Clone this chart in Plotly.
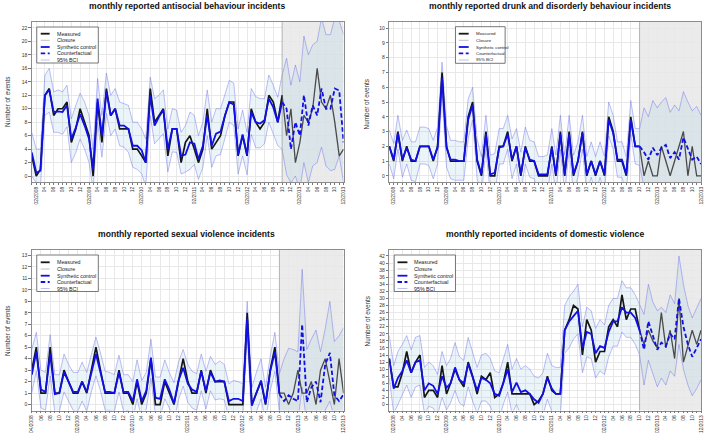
import plotly.graph_objects as go

W, H = 709, 440
FONT = "Liberation Sans, Arial, sans-serif"

# ---------------- categories ----------------
months = [f"{y}-{m:02d}-01" for y in range(2008, 2014) for m in range(1, 13)]   # 01/2008 .. 12/2013
months_sv = months[3:]                                                          # 04/2008 .. 12/2013
closure_month = "2012-10-01"

# ---------------- antisocial behaviour ----------------
asb_measured = [3, 0, 1, 12, 13, 9, 10, 10, 11, 5, 7, 10,
                8, 6, 0, 11, 5, 13, 9, 10, 7, 7, 7, 4,
                4, 3, 2, 13, 8, 9, 10, 3, 7, 7, 2, 5,
                6, 4, 2, 4, 10, 4, 5, 6, 9, 11, 11, 3,
                6, 3, 10, 8, 7, 8, 12, 11, 8, 12, 6, 10,
                2, 5, 9, 8, 10, 16, 11, 10, 12, 8, 3, 4]
asb_synthetic = [3.5, 0.5, 0.8, 12, 12.8, 9.5, 9.6, 9.5, 10.5, 5.5, 7.2, 9.2,
                 7.5, 5.5, 1, 11.5, 6, 12.5, 9, 10, 7.5, 7.5, 7, 4.5,
                 4.5, 3.8, 2, 12, 7.5, 8.8, 9.8, 4, 7, 7, 3, 3.2,
                 5, 4.8, 2.5, 4.5, 9, 4.5, 6.3, 6.6, 9, 11, 10.6, 3.2,
                 6.2, 3.2, 9.5, 8, 7.8, 8.3, 11.5, 10.2, 8, 11]
asb_counterfactual = [11, 10, 4, 8, 6, 12, 7.5, 10.5, 9, 13, 10, 10, 13, 12.7, 5]
asb_upper = [6.5, 4, 4, 15, 16, 12.5, 12.8, 12.5, 13.5, 8.5, 10.5, 12.3,
             11, 9, 4, 14.5, 9, 15.3, 12, 13, 11, 10.8, 10.5, 8,
             8, 7, 5.5, 14.7, 11.5, 12, 12.8, 7, 10, 9.8, 6.5, 7.5,
             9.5, 9, 6, 8, 12.8, 8, 10, 10, 12, 14.2, 13.8, 7,
             9.8, 6.5, 13, 11.8, 11.5, 11.5, 15, 13.5, 11.7, 15, 17.5, 13.5,
             16.5, 14, 20.8, 18, 19.5, 20, 23.5, 21, 21, 23.5, 23, 21]
asb_lower = [0, -1, -1.5, 9, 9.5, 6.5, 6.5, 6.2, 7.3, 2, 3.5, 5.5,
             4, 2, -2, 8, 2.8, 9.3, 6, 7, 4.5, 4.3, 3.5, 1.3,
             1, 0.3, -1.5, 9, 4.8, 5.5, 6.3, 0.6, 3.6, 3.5, 0.3, 0.6,
             1, 1.7, -0.5, 1.3, 6, 1.3, 3, 3.2, 5.8, 8, 7.5, 0.3,
             3, 0.2, 6.2, 4.2, 4.2, 4.8, 8, 6.3, 4.5, 4, 0.2, -1,
             0, -2, 2, -1, 1.5, 2, 4.3, 1.5, 0.8, 1, 3, -1]

# ---------------- drunk and disorderly ----------------
dd_measured = [2, 1, 3, 1, 2, 1, 1, 2, 2, 2, 1, 2,
               7, 2, 1, 1, 1, 1, 4, 5, 1, 0, 3, 0,
               0, 2, 2, 3, 1, 2, 0, 2, 1, 1, 0, 0,
               0, 2, 0, 3, 0, 3, 0, 1, 3, 0, 1, 0,
               1, 0, 4, 3, 1, 1, 0, 4, 2, 2, 0, 1,
               0, 0, 2, 1, 0, 1, 2, 3, 0, 2, 0, 0]
dd_synthetic = [2, 1.1, 2.9, 1.1, 1.9, 1.1, 1, 2, 2, 2, 1.1, 1.9,
                6.6, 1.9, 1.1, 1.1, 1, 1, 3.8, 4.8, 1.1, 0.1, 2.8, 0.1,
                0.2, 1.9, 2, 2.8, 1.1, 2, 0.1, 1.9, 1.1, 1, 0.1, 0.1,
                0.1, 1.9, 0.1, 2.8, 0.1, 2.8, 0.1, 1, 2.9, 0.1, 1, 0.1,
                1, 0.1, 3.8, 2.9, 1.1, 1.1, 0.1, 3.8, 2, 2]
dd_counterfactual = [2, 1.6, 1.1, 1.9, 1.4, 1.9, 2.1, 1.2, 1.6, 1.1, 2.6, 1.9, 1.1, 1.3, 0.8]
dd_upper = [3.1, 2.2, 4.1, 2.4, 3.1, 2.3, 2.3, 3.3, 3.3, 3.2, 2.4, 3.3,
            7.7, 3.4, 2.4, 2.4, 2.3, 2.3, 5.2, 6, 2.5, 1.3, 4.1, 1.4,
            1.5, 3.2, 3.2, 4.1, 2.5, 3.2, 1.6, 3.3, 2.4, 2.3, 1.3, 1.3,
            1.4, 3.2, 1.4, 4.1, 1.4, 4.1, 1.4, 2.3, 4.1, 1.3, 2.3, 1.3,
            2.3, 1.3, 5, 4.1, 2.3, 2.3, 1.3, 5.1, 3.2, 3.2, 4.6, 4,
            5.1, 4.6, 5, 5.3, 4.3, 4.8, 4.4, 5.7, 5, 4.4, 4.7, 4.1]
dd_lower = [0.8, -0.2, 1.8, -0.1, 0.8, -0.3, -0.4, 0.8, 0.8, 0.7, -0.2, 0.8,
            5.4, 0.6, -0.2, -0.3, -0.3, -0.3, 2.5, 3.8, -0.2, -1.3, 1.8, -1.2,
            -1.2, 0.8, 0.8, 1.8, -0.2, 0.8, -1.1, 0.8, -0.1, -0.2, -1.1, -1.2,
            -1.1, 0.8, -1.2, 1.8, -1.2, 1.8, -1.2, -0.1, 1.8, -1.2, -0.1, -1.2,
            -0.1, -1.2, 2.7, 1.8, -0.1, -0.1, -1.2, 2.8, 0.8, 0.7, -0.8, -1.3,
            -0.9, -1, -0.8, -0.6, -1.2, -0.9, -1.1, -0.5, -0.8, -1.2, -1.1, -1.3]

# ---------------- sexual violence (04/2008 ..) ----------------
sv_measured = [3, 5, 1, 1, 5, 1, 1, 3, 2, 1, 1, 2,
               1, 3, 5, 3, 1, 1, 1, 3, 1, 1, 0, 2,
               0, 1, 4, 0, 0, 2, 1, 0, 2, 4, 2, 1,
               1, 3, 1, 3, 2, 2, 2, 0, 0, 0, 0, 8,
               0, 1, 2, 0, 3, 5, 1, 1, 0, 1, 3, 1,
               1, 2, 0, 3, 4, 2, 0, 4, 1]
sv_synthetic = [2.6, 4.6, 1.3, 1.1, 4.4, 0.9, 1, 2.8, 2, 1.1, 1.1, 2,
                1.1, 2.7, 4.4, 2.8, 1.1, 1.1, 1, 2.8, 1.1, 1.1, 0.3, 2.2,
                0.3, 1.2, 4.1, 0.6, 0.5, 2.2, 1.3, 0.1, 2.1, 3.2, 1.8, 1.3,
                1.1, 2.9, 1.2, 2.8, 2, 2.1, 2, 0.3, 0.5, 0.5, 0.3, 7.5,
                -0.1, 1, 2.1, 0.1, 2.9, 4.6, 0.9]
sv_counterfactual = [0.9, 0.3, 0.8, 0.5, 0.3, 7, 0.2, 1.5, 2, 0.2, 3.5, 4.5, 0.8, 0.3, 0.9]
sv_upper = [4.8, 6.3, 3, 2.8, 6.1, 2.6, 2.6, 4.4, 3.5, 2.8, 2.8, 3.7,
            2.8, 4.3, 5.9, 4.5, 2.9, 2.8, 2.6, 4.3, 2.6, 2.6, 2, 3.9,
            2.1, 2.8, 5.7, 2.4, 2.4, 3.9, 2.8, 1.9, 3.7, 4.8, 3.5, 2.9,
            2.7, 4.4, 2.9, 4.2, 3.5, 3.8, 3.5, 1.8, 2.1, 2, 1.8, 9,
            1.5, 2.8, 4, 1.5, 4.2, 6.3, 2.7, 4, 4.9, 4.8, 4.6, 11.8,
            4.8, 5.7, 6.5, 4.6, 6.6, 9, 5.5, 6, 6.7]
sv_lower = [1, 2.9, -0.3, -0.5, 2.5, -0.7, -0.6, 1.1, 0.3, -0.5, -0.6, 0.3,
            -0.6, 1.1, 2.5, 1.2, -0.5, -0.5, -0.6, 1.1, -0.6, -0.5, -1.3, 0.5,
            -1.3, -0.4, 2.3, -1, -1.1, 0.5, -0.3, -1.5, 0.4, 1.6, 0.2, -0.3,
            -0.5, 1.2, -0.4, 1.2, 0.4, 0.5, 0.4, -1.2, -1, -1, -1.2, 6,
            -1.7, -0.7, 0.5, -1.5, 1.2, 2.9, -0.7, -1.3, -1, -1.2, -1.4, 1.5,
            -1.6, -1, -0.8, -1.6, -0.5, 0.3, -1.2, -1.4, -1]

# ---------------- domestic violence ----------------
dv_measured = [13, 5, 5, 9, 15, 9, 12, 14, 2, 4, 4, 2,
               11, 3, 6, 10, 7, 5, 12, 8, 3, 8, 7, 9,
               2, 3, 6, 12, 3, 3, 3, 3, 3, 0, 1, 3,
               8, 4, 3, 3, 21, 24, 28, 27, 14, 24, 21, 12,
               15, 15, 22, 24, 22, 31, 24, 27, 27, 21, 17, 21,
               18, 16, 26, 16, 21, 13, 30, 12, 17, 21, 17, 21]
dv_synthetic = [13, 4.5, 7.5, 9.5, 12.5, 9, 12, 12.5, 4, 6, 5.3, 3,
                8, 4.8, 6, 10.5, 7, 6, 11.5, 8, 4, 7.5, 7, 6,
                3, 2.5, 6, 10, 3.5, 6.2, 3.5, 4, 3, 1.5, 0.5, 3,
                7.5, 4.5, 3, 3, 21, 23.5, 25, 26.5, 16, 20.5, 20, 14.5,
                16.5, 16, 20.5, 23.5, 23.5, 27.5, 26, 26, 24.5, 21]
dv_counterfactual = [21, 15.5, 23.5, 19.5, 15.5, 17.5, 16.5, 20, 18.5, 30, 22, 17, 13.5, 16, 18.5]
dv_upper = [19.5, 11, 15, 17, 19.5, 15.5, 19, 19.5, 10.5, 12, 11, 8.5,
            15, 11, 13, 17.5, 13.5, 12.5, 19, 15, 10.5, 14, 14.5, 13,
            9.5, 9, 13, 17, 10, 13, 10, 11, 10, 8, 7.5, 9,
            14.5, 11, 10.5, 10.5, 28, 30.5, 32, 34, 22, 27.5, 26.5, 21.5,
            24, 22.5, 28, 30, 30, 35, 33, 33, 31, 28.5, 25.5, 34,
            29, 26.5, 27.5, 26, 31, 28.5, 42, 34, 28, 24.5, 27.5, 30]
dv_lower = [7.5, -2.5, 0, 3, 5.5, 2, 5, 5.5, -2.5, -0.5, -1, -3,
            2, -1.5, 0.5, 4, 0.5, -0.5, 5, 1, -2.5, 1, 1, -0.5,
            -3.5, -4, 0, 3.5, -2.5, 0, -3, -2, -3, -4.5, -5.5, -3,
            1.5, -2, -3, -3, 14.5, 16, 18.5, 20, 9, 13.5, 13, 7.5,
            9.5, 8.5, 13.5, 16.5, 16.5, 20.5, 19, 19, 17, 14, 5.5, 12.5,
            8.5, 5, 7.5, 5.5, 9.5, 8, 17, 10, 5.5, 2.5, 4.5, 7]

titles = ["monthly reported antisocial behaviour incidents",
          "monthly reported drunk and disorderly behaviour incidents",
          "monthly reported sexual violence incidents",
          "monthly reported incidents of domestic violence"]
legend_labels = ["Measured", "Closure", "Synthetic control", "Counterfactual", "95% BCI"]

# ---------------- styling / layout ----------------
C_MEAS = "#161616"
C_MEAS_POST = "#4a4a4a"
C_BLUE = "#1010e6"
C_BCI = "rgba(95,95,235,0.5)"
C_FILL = "rgba(150,200,225,0.2)"
C_CLOS = "rgba(160,160,160,0.9)"
DASH = "4.5px,2.5px"

panels = [
    dict(x=months, meas=asb_measured, syn=asb_synthetic, cf=asb_counterfactual, up=asb_upper, lo=asb_lower,
         yr=[-0.88, 22.88], dt=2, box=(30, 344, 22, 182), title=(186.5, 6), ytitle=(5, 102),
         leg=dict(box=(35, 27, 97, 63), rows=[33.7, 40.3, 47, 53.3, 60], s=(39, 48), t=53, fs=5.3)),
    dict(x=months, meas=dd_measured, syn=dd_synthetic, cf=dd_counterfactual, up=dd_upper, lo=dd_lower,
         yr=[-0.42, 10.42], dt=1, box=(390, 704, 22, 182), title=(551.5, 6), ytitle=(368, 104),
         leg=dict(box=(456.7, 26.7, 506.7, 63.3), rows=[33.7, 40.3, 47, 53.3, 60], s=(460, 470), t=475, fs=4.4)),
    dict(x=months_sv, meas=sv_measured, syn=sv_synthetic, cf=sv_counterfactual, up=sv_upper, lo=sv_lower,
         yr=[-0.52, 13.52], dt=1, box=(30, 344, 249.5, 410.5), title=(186, 234), ytitle=(5, 331),
         leg=dict(box=(35, 255, 97, 291.5), rows=[262.3, 269, 275.7, 282, 288.5], s=(39, 48), t=53, fs=5.3)),
    dict(x=months, meas=dv_measured, syn=dv_synthetic, cf=dv_counterfactual, up=dv_upper, lo=dv_lower,
         yr=[-1.68, 43.68], dt=2, box=(390, 704, 250, 410.5), title=(546.5, 234), ytitle=(368, 321),
         leg=dict(box=(395, 255, 456.7, 291.5), rows=[262.3, 269, 275.7, 282, 288.5], s=(398.3, 408.3), t=413.3, fs=5.3)),
]


def px(xp):
    return xp / W


def py(yp):
    return 1 - yp / H


def tick_labels(xs):
    vals, texts = [], []
    for i, d in enumerate(xs):
        yy, mm = int(d[:4]), int(d[5:7])
        if mm % 2 == 0:
            vals.append(d)
            if mm == 2 or i == 0 or i == len(xs) - 1:
                texts.append(f"{mm:02d}/{yy}")
            else:
                texts.append(f"{mm:02d}")
    return vals, texts


fig = go.Figure()
layout = dict(width=W, height=H, margin=dict(l=0, r=0, t=0, b=0), paper_bgcolor="white",
              plot_bgcolor="white", showlegend=False, font=dict(family=FONT, color="#222"))
shapes, annotations = [], []

for n, p in enumerate(panels, start=1):
    sfx = "" if n == 1 else str(n)
    xa, ya = "x" + sfx, "y" + sfx
    xs = p["x"]
    k = xs.index(closure_month)
    x0, x1, yt, yb = p["box"]

    # closure period shading
    shapes.append(dict(type="rect", xref=xa, yref=ya + " domain", x0=closure_month, x1=xs[-1], y0=0, y1=1,
                       fillcolor="#ebebeb", line=dict(width=0), layer="below"))

    # 95% BCI band
    fig.add_trace(go.Scatter(x=xs, y=p["lo"], mode="lines", line=dict(color=C_BCI, width=0.8),
                             xaxis=xa, yaxis=ya, hoverinfo="skip"))
    fig.add_trace(go.Scatter(x=xs, y=p["up"], mode="lines", line=dict(color=C_BCI, width=0.8),
                             fill="tonexty", fillcolor=C_FILL, xaxis=xa, yaxis=ya, hoverinfo="skip"))
    # closure marker
    fig.add_trace(go.Scatter(x=[closure_month, closure_month], y=p["yr"], mode="lines",
                             line=dict(color=C_CLOS, width=0.8), xaxis=xa, yaxis=ya, hoverinfo="skip"))
    # measured (pre-closure black, post-closure dark grey)
    fig.add_trace(go.Scatter(x=xs[:k + 1], y=p["meas"][:k + 1], mode="lines",
                             line=dict(color=C_MEAS, width=1.7), xaxis=xa, yaxis=ya))
    fig.add_trace(go.Scatter(x=xs[k:], y=p["meas"][k:], mode="lines",
                             line=dict(color=C_MEAS_POST, width=1.3), xaxis=xa, yaxis=ya))
    # synthetic control (pre) and counterfactual (post)
    fig.add_trace(go.Scatter(x=xs[:k + 1], y=p["syn"], mode="lines", line=dict(color=C_BLUE, width=1.8),
                             xaxis=xa, yaxis=ya))
    fig.add_trace(go.Scatter(x=xs[k:], y=p["cf"], mode="lines", line=dict(color=C_BLUE, width=1.8, dash=DASH),
                             xaxis=xa, yaxis=ya))

    vals, texts = tick_labels(xs)
    layout["xaxis" + sfx] = dict(
        domain=[px(x0), px(x1)], anchor=ya, type="date", range=[xs[0], xs[-1]],
        tickmode="array", tickvals=vals, ticktext=texts, tickangle=-90,
        tickfont=dict(size=4.9, color="#333", family=FONT), ticks="outside", ticklen=2, tickcolor="#777",
        showgrid=True, gridcolor="#e8e8e8", gridwidth=0.6, showline=True, mirror=True,
        linecolor="#8c8c8c", linewidth=0.8, zeroline=False,
        minor=dict(tickmode="array", tickvals=xs, ticks="outside", ticklen=2, tickcolor="#777", showgrid=False))
    layout["yaxis" + sfx] = dict(
        domain=[py(yb), py(yt)], anchor=xa, range=p["yr"], tick0=0, dtick=p["dt"],
        tickfont=dict(size=5, color="#333", family=FONT), ticks="outside", ticklen=2.5, tickcolor="#777",
        showgrid=True, gridcolor="#e8e8e8", gridwidth=0.6, showline=True, mirror=True,
        linecolor="#8c8c8c", linewidth=0.8, zeroline=False)

    # titles
    tx, ty = p["title"]
    annotations.append(dict(text="<b>" + titles[n - 1] + "</b>", x=px(tx), y=py(ty), xref="paper", yref="paper",
                            showarrow=False, xanchor="center", yanchor="middle",
                            font=dict(size=8.6, color="#111", family=FONT)))
    yx, yy = p["ytitle"]
    annotations.append(dict(text="Number of events", x=px(yx), y=py(yy), xref="paper", yref="paper",
                            showarrow=False, textangle=-90, xanchor="center", yanchor="middle",
                            font=dict(size=6.4, color="#333", family=FONT)))

    # legend box
    lg = p["leg"]
    bx0, by0, bx1, by1 = lg["box"]
    shapes.append(dict(type="rect", xref="paper", yref="paper", x0=px(bx0), x1=px(bx1), y0=py(by1), y1=py(by0),
                       fillcolor="white", line=dict(color="#555", width=0.8), layer="above"))
    styles = [dict(color=C_MEAS, width=1.8), dict(color="#b0b0b0", width=0.8), dict(color=C_BLUE, width=1.8),
              dict(color=C_BLUE, width=1.8, dash=DASH), dict(color="rgba(120,120,240,0.6)", width=0.8)]
    for lab, ry, st in zip(legend_labels, lg["rows"], styles):
        shapes.append(dict(type="line", xref="paper", yref="paper", x0=px(lg["s"][0]), x1=px(lg["s"][1]),
                           y0=py(ry), y1=py(ry), line=st, layer="above"))
        annotations.append(dict(text=lab, x=px(lg["t"]), y=py(ry), xref="paper", yref="paper", showarrow=False,
                                xanchor="left", yanchor="middle",
                                font=dict(size=lg["fs"], color="#222", family=FONT)))

layout["shapes"] = shapes
layout["annotations"] = annotations
fig.update_layout(**layout)
fig.write_html("out.html", config={"displayModeBar": False},
               post_script="document.body.style.margin='0';document.body.style.overflow='hidden';")
